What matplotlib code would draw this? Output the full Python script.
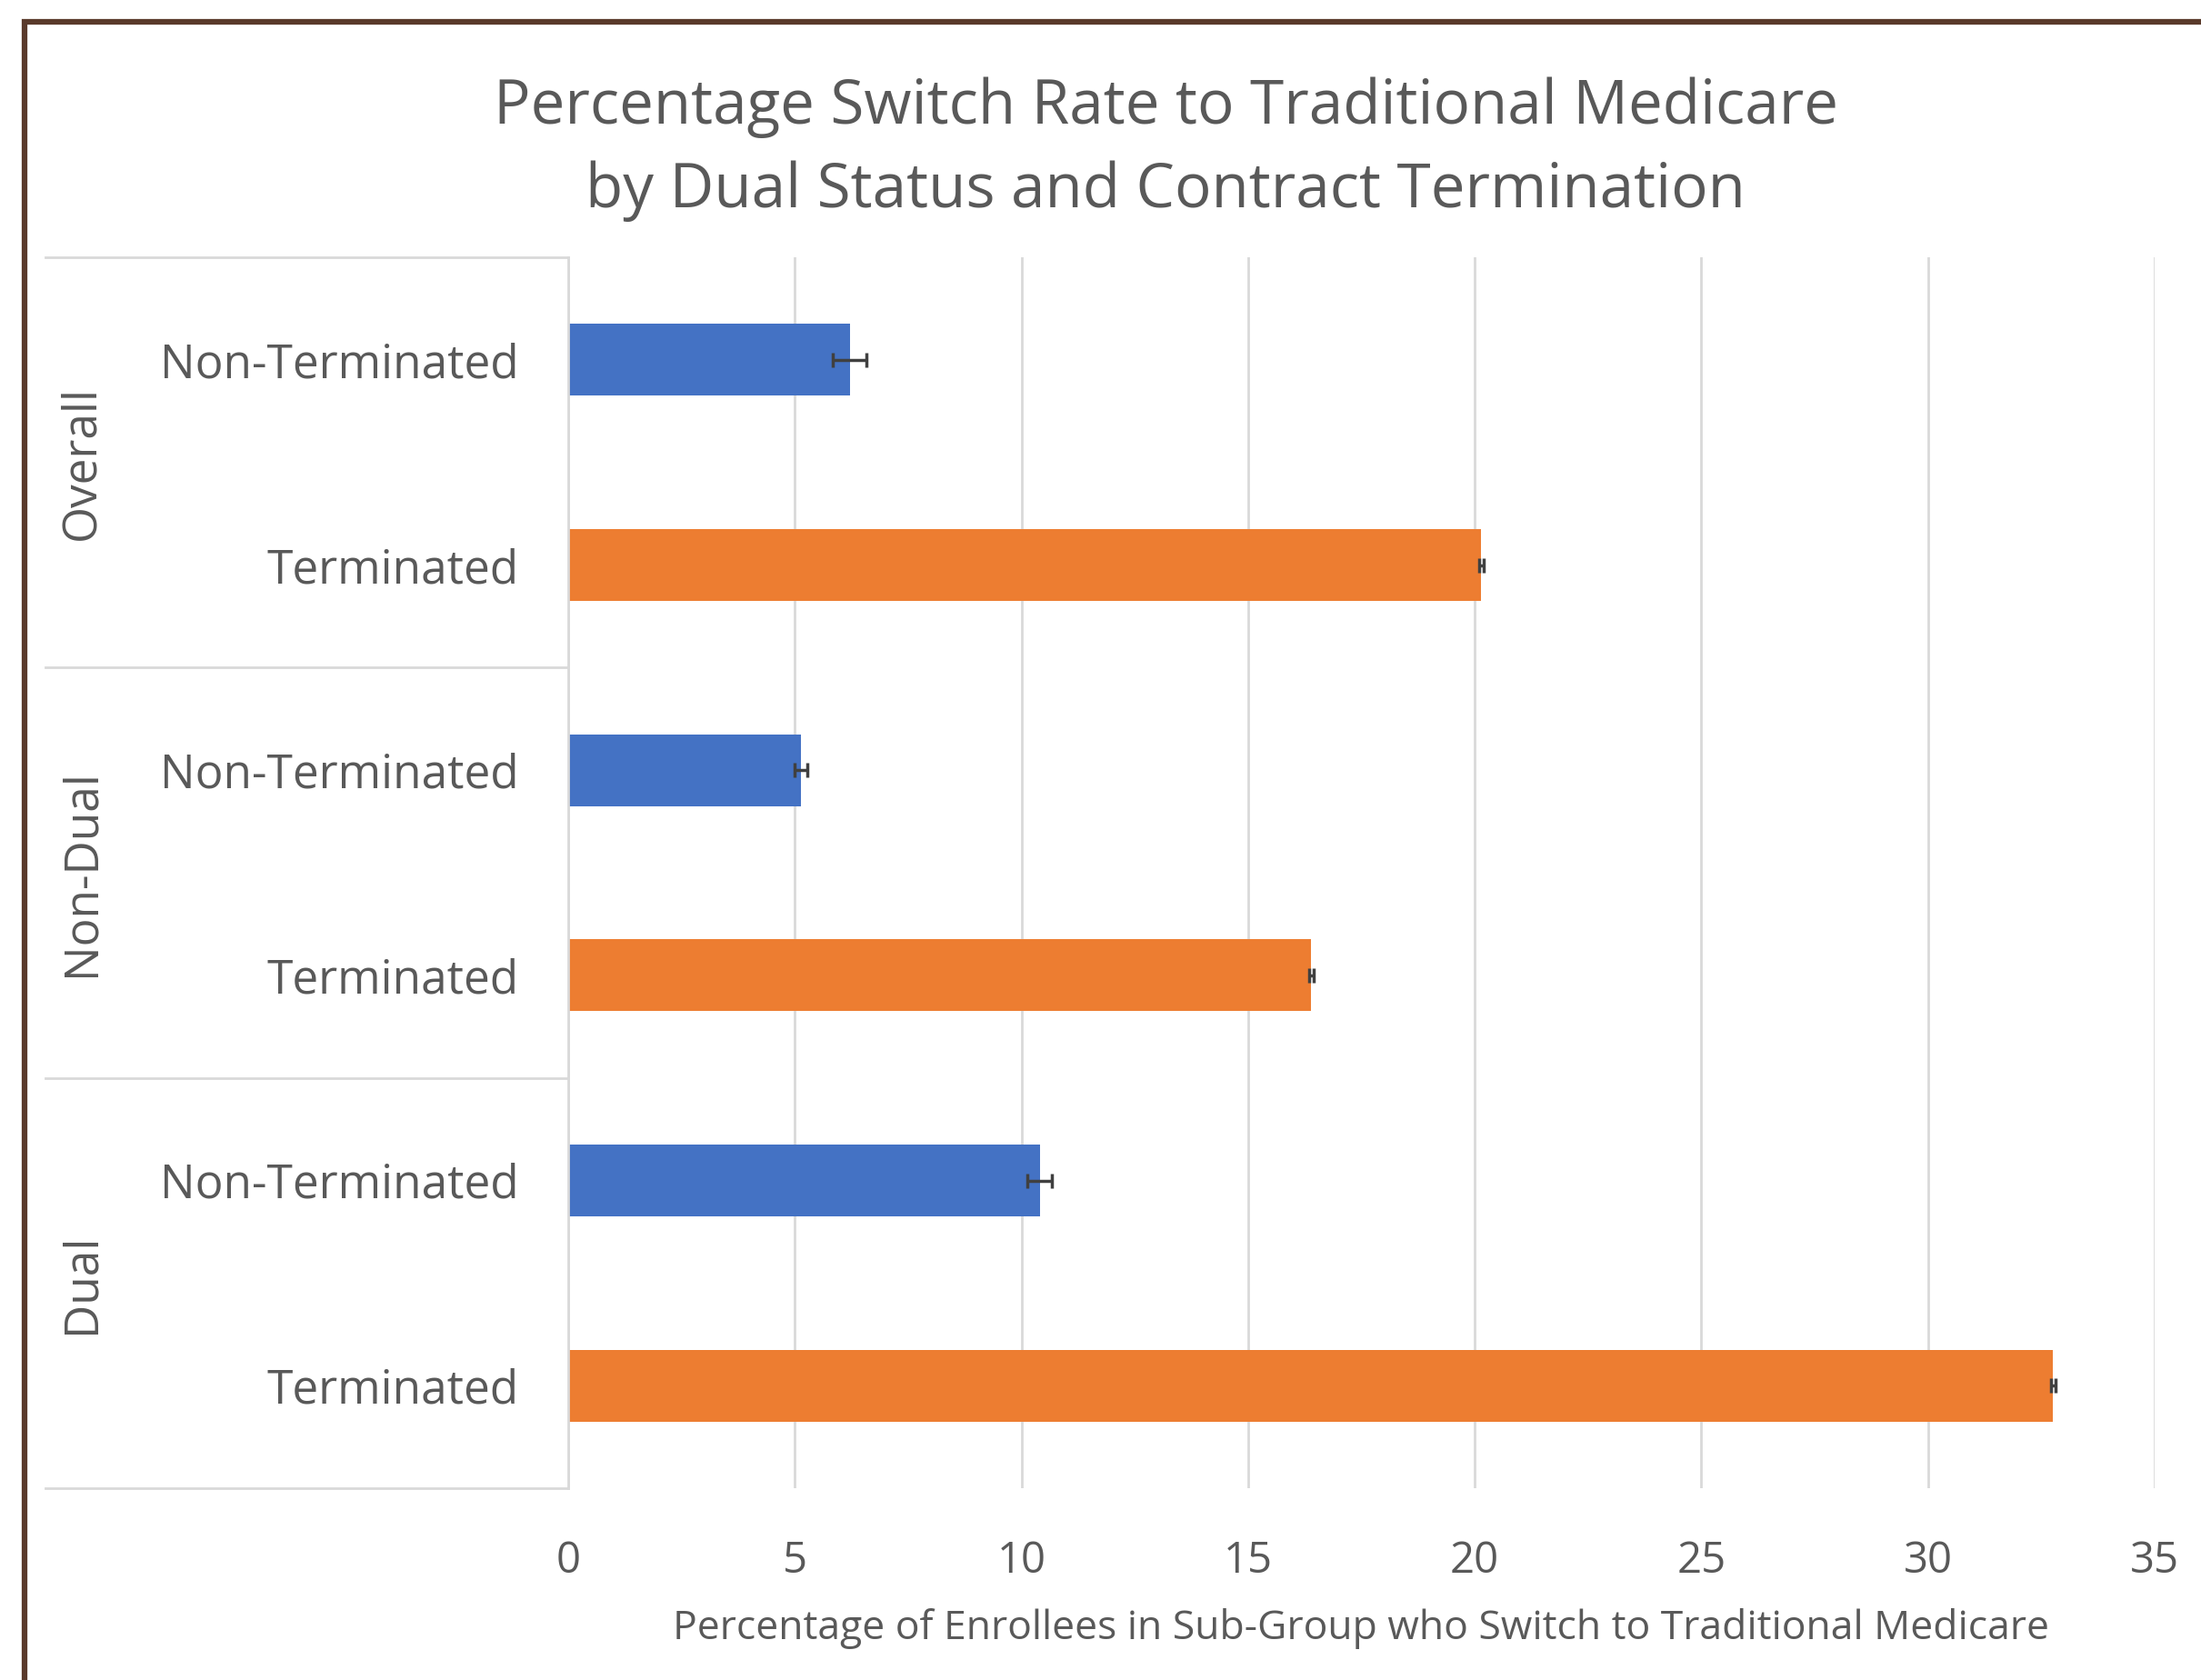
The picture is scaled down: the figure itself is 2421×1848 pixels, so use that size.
import matplotlib
matplotlib.use("Agg")
import matplotlib.pyplot as plt
import matplotlib.transforms as mtransforms
from matplotlib.patches import Rectangle

plt.rcParams['font.family'] = ['Open Sans', 'DejaVu Sans']

# data
groups = ['Overall', 'Non-Dual', 'Dual']
statuses = ['Non-Terminated', 'Terminated']
switch_rate = [6.21, 20.14, 5.14, 16.39, 10.40, 32.76]
error = [0.37, 0.05, 0.14, 0.05, 0.27, 0.05]
bar_colors = ['#4472C4', '#ED7D31'] * 3
xticks = [0, 5, 10, 15, 20, 25, 30, 35]

text_color = '#595959'
grid_color = '#D9D9D9'

W, H = 2421, 1848
fig = plt.figure(figsize=(W / 100, H / 100), dpi=100)
fig.patch.set_facecolor('white')

# pixel layout of the plot area
ax_l, ax_r, ax_t, ax_b = 625, 2370, 283, 1637
ax = fig.add_axes([ax_l / W, 1 - ax_b / H, (ax_r - ax_l) / W, (ax_b - ax_t) / H])

labels = [s for g in groups for s in statuses]
ypos = list(range(len(labels)))
ax.barh(ypos, switch_rate, height=0.35, color=bar_colors, zorder=2)
ax.errorbar(switch_rate, ypos, xerr=error, fmt='none', ecolor='#404040',
            elinewidth=2.5, capsize=6, capthick=2.5, zorder=3)

ax.set_xlim(0, 35)
ax.set_ylim(len(labels) - 0.5, -0.5)
ax.set_xticks(xticks)
ax.set_yticks(ypos)
ax.set_yticklabels(labels)
ax.tick_params(axis='y', length=0, pad=39, labelsize=37, labelcolor=text_color)
ax.tick_params(axis='x', length=0, pad=41, labelsize=34, labelcolor=text_color)
ax.grid(axis='x', color=grid_color, lw=2, zorder=0)
for side in ['top', 'right', 'bottom']:
    ax.spines[side].set_visible(False)
ax.spines['left'].set_color(grid_color)
ax.spines['left'].set_linewidth(2)
ax.spines['left'].set_zorder(4)

ax.set_xlabel('Percentage of Enrollees in Sub-Group who Switch to Traditional Medicare',
              fontsize=32, color=text_color, labelpad=20)

# group separators and group labels on the left
trans = mtransforms.blended_transform_factory(ax.transAxes, ax.transData)
x_sep = (50 - ax_l) / (ax_r - ax_l)
for yb in [-0.5, 1.5, 3.5, 5.5]:
    ax.plot([x_sep, 0], [yb, yb], color=grid_color, lw=2, transform=trans, clip_on=False)
x_grp = (90 - ax_l) / (ax_r - ax_l)
for i, g in enumerate(groups):
    ax.text(x_grp, 2 * i + 0.5, g, rotation=90, ha='center', va='center',
            fontsize=37, color=text_color, transform=trans)

# title
fig.text(1282 / W, 1 - 118 / H, 'Percentage Switch Rate to Traditional Medicare',
         ha='center', va='center', fontsize=48.5, color=text_color)
fig.text(1282 / W, 1 - 210 / H, 'by Dual Status and Contract Termination',
         ha='center', va='center', fontsize=48.5, color=text_color)

# dark frame, running off the right and bottom edges
fig.patches.append(Rectangle((27 / W, -0.1), 1.2, 1.1 - 24 / H, transform=fig.transFigure,
                             fill=False, edgecolor='#5A3A2B', lw=4.5))

fig.savefig('out.png', dpi=100)
